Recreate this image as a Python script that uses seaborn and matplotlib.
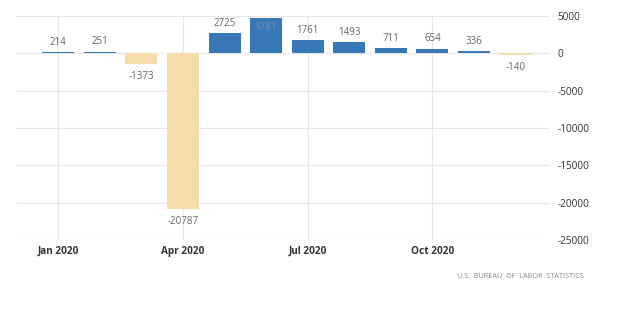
import matplotlib
matplotlib.use("Agg")
import matplotlib.pyplot as plt
import seaborn as sns
import pandas as pd

# Monthly change in US non-farm payrolls, thousands
months = ["Jan", "Feb", "Mar", "Apr", "May", "Jun",
          "Jul", "Aug", "Sep", "Oct", "Nov", "Dec"]
changes = [214, 251, -1373, -20787, 2725, 4781,
           1761, 1493, 711, 654, 336, -140]
tick_labels = ["Jan 2020", "Apr 2020", "Jul 2020", "Oct 2020"]
tick_months = ["Jan", "Apr", "Jul", "Oct"]
y_ticks = [5000, 0, -5000, -10000, -15000, -20000, -25000]

df = pd.DataFrame({"month": months, "change": changes})
df["sign"] = ["up" if v >= 0 else "down" for v in changes]

sns.set_theme(style="white")
plt.rcParams["font.family"] = ["Open Sans", "DejaVu Sans"]

fig = plt.figure(figsize=(6.2, 3.23), dpi=100)
ax = fig.add_axes([0.0274, 0.257, 0.860, 0.693])

sns.barplot(data=df, x="month", y="change", hue="sign", order=months,
            palette={"up": "#3878b6", "down": "#f6dcad"}, dodge=False,
            saturation=1, width=0.77, legend=False, ax=ax, zorder=3,
            linewidth=0)

ax.set_ylim(-25000, 5000)
ax.set_xlim(-0.99, 11.83)
ax.set_yticks(y_ticks)
ax.set_yticklabels([str(t) for t in y_ticks])
ax.yaxis.tick_right()
ax.tick_params(axis="y", length=0, pad=5, labelsize=7.2, colors="#333333")

pos = [months.index(m) for m in tick_months]
ax.set_xticks(pos)
ax.set_xticklabels(tick_labels, fontweight="bold")
ax.tick_params(axis="x", length=0, pad=4, labelsize=7.2, colors="#333333")

ax.grid(True, axis="both", color="#e6e6e6", linewidth=0.8, zorder=0)
ax.set_axisbelow(True)
for s in ax.spines.values():
    s.set_visible(False)
ax.set_xlabel("")
ax.set_ylabel("")

# Value labels above positive bars, below negative ones;
# the tallest bar reaches the top edge, so its label sits inside it
for i, v in enumerate(changes):
    if v >= 0:
        if v > 4500:
            ax.text(i, 3500, str(v), ha="center", va="center",
                    fontsize=7, color="#6f8fb5", zorder=5)
        else:
            ax.text(i, v + 1300, str(v), ha="center", va="center",
                    fontsize=7, color="#666666", zorder=5)
    else:
        ax.text(i, v - 1750, str(v), ha="center", va="center",
                fontsize=7, color="#666666", zorder=5)

fig.text(0.941, 0.145, "U.S.  BUREAU  OF  LABOR  STATISTICS", ha="right",
         va="center", fontsize=5.2, color="#888888")

fig.savefig("out.png", dpi=100, facecolor="white")
